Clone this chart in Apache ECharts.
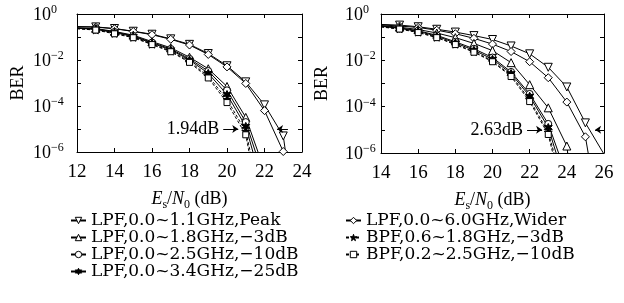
<!DOCTYPE html>
<html>
<head>
<meta charset="utf-8">
<script src="https://cdn.jsdelivr.net/npm/echarts@6/dist/echarts.min.js"></script>
<style>
html, body { margin: 0; padding: 0; background: #fff; }
#chart { width: 624px; height: 303px; }
</style>
</head>
<body>
<div id="chart"></div>
<script>
// Es/N0 sample points (dB)
const xLeft = [12, 13, 14, 15, 16, 17, 18, 19, 20, 21, 22, 23, 24]
const xRight = [14, 15, 16, 17, 18, 19, 20, 21, 22, 23, 24, 25, 26]

const names = [
  'LPF,0.0~1.1GHz,Peak',
  'LPF,0.0~1.8GHz,\u22123dB',
  'LPF,0.0~2.5GHz,\u221210dB',
  'LPF,0.0~3.4GHz,\u221225dB',
  'LPF,0.0~6.0GHz,Wider',
  'BPF,0.6~1.8GHz,\u22123dB',
  'BPF,0.2~2.5GHz,\u221210dB'
]

// BER, left panel (first value sits on the left frame, last ones run off the bottom)
const leftPeak = [0.282, 0.275, 0.234, 0.178, 0.132, 0.0832, 0.0479, 0.0191, 0.00562, 0.00112, 0.000112, 5e-6, 1e-11]
const leftWider = [0.282, 0.269, 0.229, 0.174, 0.126, 0.0794, 0.0447, 0.0174, 0.00501, 0.000955, 6.3e-5, 1.05e-6, 1e-12]
const leftLpf18 = [0.251, 0.234, 0.174, 0.120, 0.0631, 0.0339, 0.0132, 0.00417, 0.000708, 3.2e-5, 1.6e-7]
const leftLpf25 = [0.245, 0.224, 0.166, 0.112, 0.0575, 0.0302, 0.0112, 0.00331, 0.000479, 2e-5, 6.3e-8]
const leftLpf34 = [0.240, 0.214, 0.155, 0.105, 0.0537, 0.0275, 0.01, 0.00263, 0.000316, 1.3e-5, 1.6e-8]
const leftBpf18 = [0.234, 0.204, 0.145, 0.0977, 0.049, 0.0245, 0.0087, 0.002, 0.000191, 7.9e-6, 1.6e-9]
const leftBpf25 = [0.229, 0.2, 0.138, 0.0933, 0.0468, 0.0229, 0.0079, 0.00166, 0.000141, 5.6e-6, 3.2e-10]

// BER, right panel
const rightPeak = [0.355, 0.331, 0.282, 0.219, 0.166, 0.117, 0.0794, 0.0417, 0.0191, 0.00501, 0.000708, 2e-5, 8.9e-7]
const rightWider = [0.339, 0.302, 0.263, 0.2, 0.141, 0.0891, 0.0501, 0.024, 0.00871, 0.00178, 0.000158, 5e-6, 1e-10]
const rightLpf18 = [0.316, 0.269, 0.214, 0.151, 0.0955, 0.0537, 0.0263, 0.00794, 0.000891, 8.9e-5, 2e-6, 1e-12]
const rightLpf25 = [0.302, 0.251, 0.191, 0.120, 0.0631, 0.0316, 0.0132, 0.00316, 0.000355, 1.8e-5, 1e-7]
const rightLpf34 = [0.295, 0.240, 0.178, 0.110, 0.0562, 0.0275, 0.0112, 0.00269, 0.000282, 1.26e-5, 3.2e-8]
const rightBpf18 = [0.282, 0.229, 0.166, 0.1, 0.0501, 0.024, 0.00955, 0.00224, 0.0002, 7.9e-6, 1e-8]
const rightBpf25 = [0.275, 0.224, 0.158, 0.0955, 0.0479, 0.0224, 0.00871, 0.002, 0.000166, 6.3e-6, 3.2e-9]

// dB gap arrows
const gapLeft = { text: '1.94dB', ber: 1e-5, inFrom: 19.8, inTo: 20.6, outFrom: 23.25, outTo: 22.67 }
const gapRight = { text: '2.63dB', ber: 1e-5, inFrom: 21.86, inTo: 22.67, outFrom: 26, outTo: 25.52 }

const serif = 'Liberation Serif'
const hexStar = 'path://M0,-10L2.5,-4.33L8.66,-5L5,0L8.66,5L2.5,4.33L0,10L-2.5,4.33L-8.66,5L-5,0L-8.66,-5L-2.5,-4.33Z'
const star5 = 'path://M0,-10L2.35,-3.24L9.51,-3.09L3.8,1.24L5.88,8.09L0,4L-5.88,8.09L-3.8,1.24L-9.51,-3.09L-2.35,-3.24Z'

const styles = {
  [names[0]]: { symbol: 'triangle', symbolRotate: 180, symbolSize: 8, open: true },
  [names[1]]: { symbol: 'triangle', symbolSize: 8, open: true },
  [names[2]]: { symbol: 'circle', symbolSize: 7, open: true },
  [names[3]]: { symbol: hexStar, symbolSize: 8, open: false },
  [names[4]]: { symbol: 'diamond', symbolSize: 8, open: true },
  [names[5]]: { symbol: star5, symbolSize: 8, open: false, dashed: true },
  [names[6]]: { symbol: 'rect', symbolSize: 6, open: true, dashed: true }
}

function mkSeries (name, xs, ys, panel) {
  const s = styles[name]
  return {
    name,
    type: 'line',
    xAxisIndex: panel * 2,
    yAxisIndex: panel * 2,
    symbol: s.symbol,
    symbolRotate: s.symbolRotate || 0,
    symbolSize: s.symbolSize,
    clip: true,
    z: 3,
    lineStyle: { color: '#000', width: 1, type: s.dashed ? [3, 2] : 'solid' },
    itemStyle: { color: s.open ? '#fff' : '#000', borderColor: '#000', borderWidth: 1 },
    data: ys.map((v, i) => i === 0 ? { value: [xs[i], v], symbol: 'none' } : [xs[i], v])
  }
}

function gapArrows (g) {
  return {
    silent: true,
    symbol: ['none', 'arrow'],
    symbolSize: 6,
    lineStyle: { color: '#000', width: 1, type: 'solid' },
    label: { show: true, position: 'start', formatter: '{b}', color: '#000', fontFamily: serif, fontSize: 18, distance: 4 },
    data: [
      [{ name: g.text, coord: [g.inFrom, g.ber] }, { coord: [g.inTo, g.ber] }],
      [{ coord: [g.outFrom, g.ber], label: { show: false } }, { coord: [g.outTo, g.ber] }]
    ]
  }
}

const series = [
  mkSeries(names[0], xLeft, leftPeak, 0),
  mkSeries(names[4], xLeft, leftWider, 0),
  mkSeries(names[1], xLeft, leftLpf18, 0),
  mkSeries(names[2], xLeft, leftLpf25, 0),
  mkSeries(names[3], xLeft, leftLpf34, 0),
  mkSeries(names[5], xLeft, leftBpf18, 0),
  mkSeries(names[6], xLeft, leftBpf25, 0),
  mkSeries(names[0], xRight, rightPeak, 1),
  mkSeries(names[4], xRight, rightWider, 1),
  mkSeries(names[1], xRight, rightLpf18, 1),
  mkSeries(names[2], xRight, rightLpf25, 1),
  mkSeries(names[3], xRight, rightLpf34, 1),
  mkSeries(names[5], xRight, rightBpf18, 1),
  mkSeries(names[6], xRight, rightBpf25, 1)
]
series[0].markLine = gapArrows(gapLeft)
series[7].markLine = gapArrows(gapRight)

const axisLine = { show: true, lineStyle: { color: '#000', width: 1 } }
const tick = { show: true, inside: true, length: 4, lineStyle: { color: '#000' } }

const xName = {
  name: '{i|E}{s|s}{n|/}{i|N}{s|0}{n| (dB)}',
  nameLocation: 'middle',
  nameGap: 38,
  nameTextStyle: {
    color: '#000',
    rich: {
      i: { fontFamily: serif, fontStyle: 'italic', fontSize: 18, color: '#000', padding: [0, 0, 3, 0] },
      n: { fontFamily: serif, fontSize: 18, color: '#000', padding: [0, 0, 3, 0] },
      s: { fontFamily: serif, fontSize: 12, color: '#000', verticalAlign: 'bottom' }
    }
  }
}

function bottomX (grid, min, max) {
  return {
    type: 'value', gridIndex: grid, min, max, interval: 2, position: 'bottom',
    axisLine, axisTick: tick, splitLine: { show: false },
    axisLabel: { color: '#000', fontFamily: serif, fontSize: 19, margin: 11 },
    ...xName
  }
}
function topX (grid, min, max) {
  return {
    type: 'value', gridIndex: grid, min, max, interval: 2, position: 'top',
    axisLine, axisTick: tick, splitLine: { show: false }, axisLabel: { show: false }
  }
}

function powLabel (v) {
  const e = Math.round(Math.log10(v))
  if (e % 2 !== 0) return ''
  return '{b|10}{e|' + (e < 0 ? '\u2212' + (-e) : e) + '}'
}

function leftY (grid, margin, gap) {
  return {
    type: 'log', logBase: 10, gridIndex: grid, min: 1e-6, max: 1, position: 'left',
    axisLine, axisTick: tick, splitLine: { show: false },
    axisLabel: {
      formatter: powLabel, align: 'left', margin,
      rich: {
        b: { fontFamily: serif, fontSize: 18, color: '#000', padding: [2, 0, 0, 0] },
        e: { fontFamily: serif, fontSize: 12, color: '#000', verticalAlign: 'top' }
      }
    },
    name: 'BER', nameLocation: 'middle', nameGap: gap, nameRotate: 90,
    nameTextStyle: { fontFamily: serif, fontSize: 18, color: '#000' }
  }
}
function rightY (grid) {
  return {
    type: 'log', logBase: 10, gridIndex: grid, min: 1e-6, max: 1, position: 'right',
    axisLine, axisTick: tick, splitLine: { show: false }, axisLabel: { show: false }
  }
}

const legendBase = {
  orient: 'vertical',
  top: 207,
  itemWidth: 15,
  itemHeight: 8,
  itemGap: 0,
  itemStyle: { borderWidth: 1 },
  textStyle: { fontFamily: 'DejaVu Serif', fontSize: 17, color: '#000', lineHeight: 14.5 }
}

const option = {
  animation: false,
  backgroundColor: '#fff',
  grid: [
    { left: 77, top: 14, width: 225, height: 138 },
    { left: 381, top: 14, width: 223, height: 139 }
  ],
  xAxis: [bottomX(0, 12, 24), topX(0, 12, 24), bottomX(1, 14, 26), topX(1, 14, 26)],
  yAxis: [leftY(0, 44, 50), rightY(0), leftY(1, 36, 50), rightY(1)],
  legend: [
    { ...legendBase, data: names.slice(0, 4), left: 65 },
    { ...legendBase, data: names.slice(4), left: 340 }
  ],
  series
}

const chart = echarts.init(document.getElementById('chart'))
chart.setOption(option)
</script>
</body>
</html>
